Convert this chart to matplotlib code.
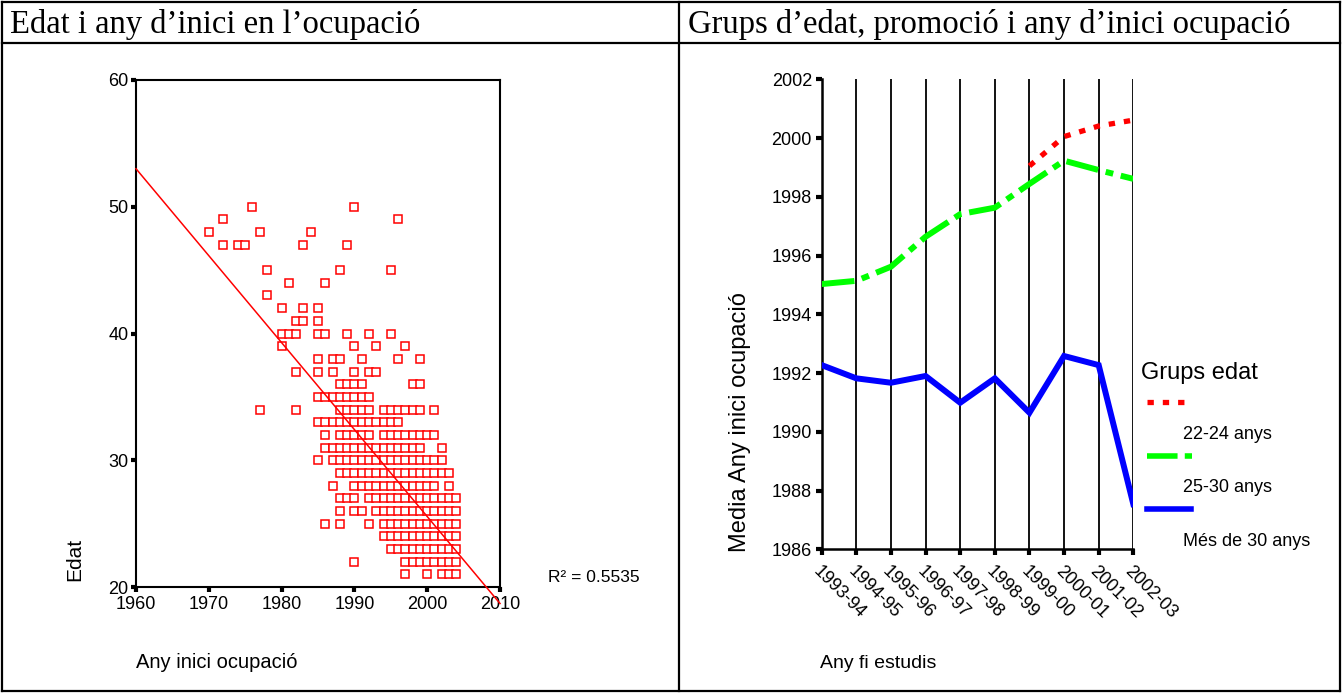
import numpy as np
import matplotlib
matplotlib.use('Agg')
import matplotlib.pyplot as plt
from matplotlib.lines import Line2D

plt.rcParams['font.family'] = ['Liberation Sans', 'DejaVu Sans']

# ---------------- data: left scatter (age vs start year) ----------------
row_ages = [50, 49, 48, 47, 45, 44, 43, 42, 41, 40, 39, 38, 37, 36, 35, 34,
            33, 32, 31, 30, 29, 28, 27, 26, 25, 24, 23, 22, 21]
row_years = [
    [1976, 1990],
    [1972, 1996],
    [1970, 1977, 1984],
    [1972, 1974, 1975, 1983, 1989],
    [1978, 1988, 1995],
    [1981, 1986],
    [1978],
    [1980, 1983, 1985],
    [1982, 1983, 1985],
    [1980, 1981, 1982, 1985, 1986, 1989, 1992, 1995],
    [1980, 1990, 1993, 1997],
    [1985, 1987, 1988, 1991, 1996, 1999],
    [1982, 1985, 1987, 1990, 1992, 1993],
    [1988, 1989, 1990, 1991, 1998, 1999],
    [1985, 1986, 1987, 1988, 1989, 1990, 1991, 1992],
    [1977, 1982, 1988, 1989, 1990, 1991, 1992, 1994, 1995, 1996, 1997, 1998, 1999, 2001],
    [1985, 1986, 1987, 1988, 1989, 1990, 1991, 1992, 1993, 1994, 1995, 1996],
    [1986, 1988, 1989, 1990, 1991, 1992, 1994, 1995, 1996, 1997, 1998, 1999, 2000, 2001],
    [1986, 1987, 1988, 1989, 1990, 1991, 1992, 1993, 1994, 1995, 1996, 1997, 1998, 1999, 2002],
    [1985, 1987, 1988, 1989, 1990, 1991, 1992, 1993, 1994, 1995, 1996, 1997, 1998, 1999, 2000, 2001, 2002],
    [1988, 1989, 1990, 1991, 1992, 1993, 1994, 1995, 1996, 1997, 1998, 1999, 2000, 2001, 2002, 2003],
    [1987, 1990, 1991, 1992, 1993, 1994, 1995, 1996, 1997, 1998, 1999, 2000, 2001, 2003],
    [1988, 1989, 1990, 1992, 1993, 1994, 1995, 1996, 1997, 1998, 1999, 2000, 2001, 2002, 2003, 2004],
    [1988, 1990, 1991, 1993, 1994, 1995, 1996, 1997, 1998, 1999, 2000, 2001, 2002, 2003, 2004],
    [1986, 1988, 1992, 1994, 1995, 1996, 1997, 1998, 1999, 2000, 2001, 2002, 2003, 2004],
    [1994, 1995, 1996, 1997, 1998, 1999, 2000, 2001, 2002, 2003, 2004],
    [1995, 1996, 1997, 1998, 1999, 2000, 2001, 2002, 2003, 2004],
    [1990, 1997, 1998, 1999, 2000, 2001, 2002, 2003, 2004],
    [1997, 2000, 2002, 2003, 2004],
]
fit_years = [1960, 2010]
fit_ages = [53.0, 18.7]
r2_text = "R² = 0.5535"

# ---------------- data: right line chart ----------------
periods = ["1993-94", "1994-95", "1995-96", "1996-97", "1997-98",
           "1998-99", "1999-00", "2000-01", "2001-02", "2002-03"]
g_22_24 = [np.nan, np.nan, np.nan, np.nan, np.nan, np.nan,
           1999.05, 2000.05, 2000.41, 2000.61]
g_25_30 = [1995.03, 1995.14, 1995.62, 1996.64, 1997.41,
           1997.63, 1998.44, 1999.23, 1998.91, 1998.61]
g_30plus = [1992.27, 1991.82, 1991.67, 1991.90, 1990.99,
            1991.82, 1990.65, 1992.58, 1992.27, 1987.54]
legend_labels = ["22-24 anys", "25-30 anys", "Més de 30 anys"]

# ---------------- figure ----------------
W, H = 1343, 693
fig = plt.figure(figsize=(W / 100, H / 100), dpi=100)


def fx(px):
    return px / W


def fy(py):
    return 1 - py / H


def fline(x0, y0, x1, y1, **kw):
    fig.add_artist(Line2D([fx(x0), fx(x1)], [fy(y0), fy(y1)],
                          transform=fig.transFigure, **kw))


# table borders
bk = dict(color='black', lw=1.6, solid_capstyle='projecting')
fline(2, 2, 1340, 2, **bk)
fline(2, 691, 1340, 691, **bk)
fline(2, 2, 2, 691, **bk)
fline(1340, 2, 1340, 691, **bk)
fline(2, 43, 1340, 43, **bk)
fline(679, 2, 679, 691, **bk)

fig.text(fx(10), fy(25), "Edat i any d’inici en l’ocupació",
         family=['Liberation Serif', 'DejaVu Serif'], fontsize=23.5,
         ha='left', va='center')
fig.text(fx(688), fy(25), "Grups d’edat, promoció i any d’inici ocupació",
         family=['Liberation Serif', 'DejaVu Serif'], fontsize=23.5,
         ha='left', va='center')

# ---------------- left scatter ----------------
ax1 = fig.add_axes([fx(136), fy(587), (500 - 136) / W, (587 - 80) / H])
for age, yrs in zip(row_ages, row_years):
    ax1.plot(yrs, [age] * len(yrs), ls='none', marker='s', ms=5.3,
             mfc='white', mec='#ff0000', mew=1.1, clip_on=False, zorder=3)
ax1.plot(fit_years, fit_ages, color='#ff0000', lw=1.1, clip_on=False, zorder=4)
ax1.set_xlim(1960, 2010)
ax1.set_ylim(20, 60)
ax1.set_xticks([1960, 1970, 1980, 1990, 2000, 2010])
ax1.set_yticks([20, 30, 40, 50, 60])
ax1.tick_params(direction='out', length=3.5, width=3, labelsize=13, pad=2)
ax1.tick_params(axis='x', pad=3)
for s in ax1.spines.values():
    s.set_linewidth(1.5)

fig.text(fx(75), fy(581), "Edat", rotation=90, fontsize=15, ha='center', va='bottom')
fig.text(fx(136), fy(663), "Any inici ocupació", fontsize=14.5, ha='left', va='center')
fig.text(fx(548), fy(577), r2_text, fontsize=12.5, ha='left', va='center')

# ---------------- right line chart ----------------
green_dash = (5.5, 1.3, 1.3, 1.3)
red_dash = (1.2, 1.7)
ax2 = fig.add_axes([fx(821.7), fy(549.3), (1133.3 - 821.7) / W, (549.3 - 79.3) / H])
x = np.arange(len(periods))
for xi in x:
    ax2.axvline(xi, color='black', lw=1.3, zorder=1)
ax2.plot(x, g_25_30, color='#00ff00', lw=4.3, dashes=green_dash,
         dash_capstyle='butt', zorder=3)
ax2.plot(x, g_22_24, color='#ff0000', lw=3.8, dashes=red_dash,
         dash_capstyle='butt', zorder=4)
ax2.plot(x, g_30plus, color='#0000ff', lw=4.3, zorder=3,
         solid_joinstyle='miter')
ax2.set_xlim(0, 9)
ax2.set_ylim(1986, 2002)
ax2.set_yticks(np.arange(1986, 2003, 2))
ax2.set_xticks(x)
ax2.set_xticklabels(periods, rotation=-45, ha='left', va='top',
                    rotation_mode='anchor')
ax2.tick_params(direction='out', length=4, width=3, labelsize=13, pad=3)
ax2.tick_params(axis='x', pad=6)
ax2.spines['top'].set_visible(False)
ax2.spines['right'].set_visible(False)
ax2.spines['left'].set_linewidth(1.8)
ax2.spines['bottom'].set_linewidth(1.8)

fig.text(fx(740), fy(552), "Media Any inici ocupació", rotation=90,
         fontsize=17, ha='center', va='bottom')
fig.text(fx(820), fy(663), "Any fi estudis", fontsize=14, ha='left', va='center')

# legend
fig.text(fx(1141), fy(373), "Grups edat", fontsize=17, ha='left', va='center')
fig.add_artist(Line2D([fx(1147), fx(1192)], [fy(402), fy(402)], transform=fig.transFigure,
                      color='#ff0000', lw=3.8, dashes=red_dash, dash_capstyle='butt'))
fig.add_artist(Line2D([fx(1147), fx(1192)], [fy(456), fy(456)], transform=fig.transFigure,
                      color='#00ff00', lw=4.0, dashes=green_dash, dash_capstyle='butt'))
fig.add_artist(Line2D([fx(1147), fx(1191)], [fy(509), fy(509)], transform=fig.transFigure,
                      color='#0000ff', lw=4.0))
for lbl, yy in zip(legend_labels, [435, 488, 541]):
    fig.text(fx(1183), fy(yy), lbl, fontsize=13, ha='left', va='center')

fig.savefig('out.png', dpi=100)
